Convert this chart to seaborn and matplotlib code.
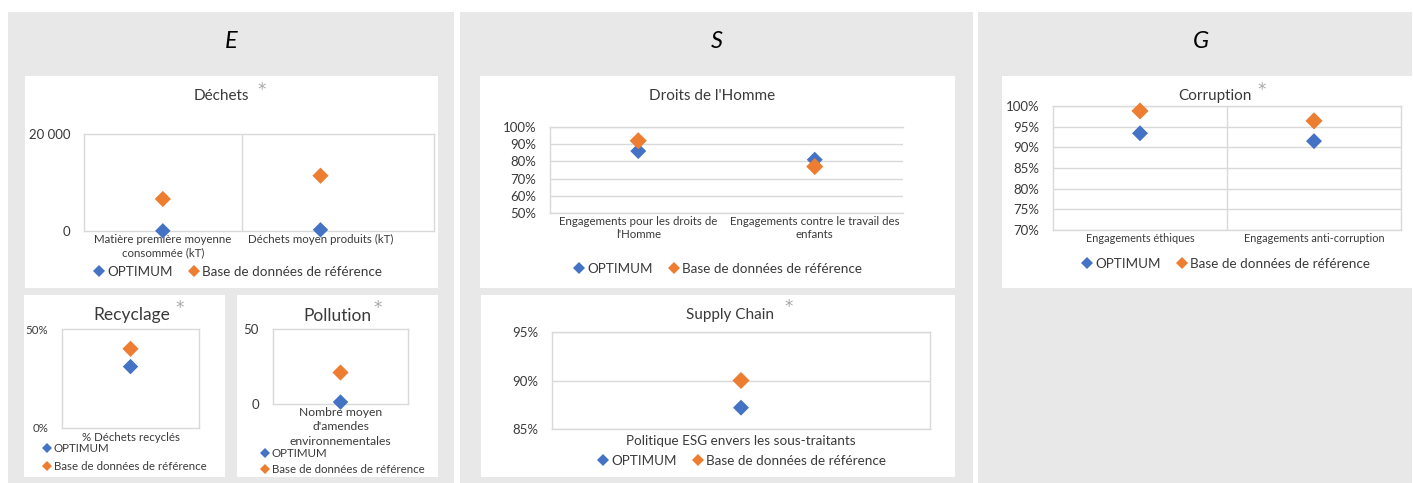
import numpy as np
import pandas as pd
import matplotlib
matplotlib.use("Agg")
import matplotlib.pyplot as plt
from matplotlib.patches import Rectangle
from matplotlib.lines import Line2D
import seaborn as sns

# --- data ---
series = ["OPTIMUM", "Base de données de référence"]

dechets_cats = ["Matière première moyenne\nconsommée (kT)", "Déchets moyen produits (kT)"]
dechets_optimum = [30, 250]
dechets_base = [6600, 11400]

recyclage_cats = ["% Déchets recyclés"]
recyclage_optimum = [0.31]
recyclage_base = [0.40]

pollution_cats = ["Nombre moyen\nd'amendes\nenvironnementales"]
pollution_optimum = [1.3]
pollution_base = [21]

droits_cats = ["Engagements pour les droits de\nl'Homme", "Engagements contre le travail des\nenfants"]
droits_optimum = [0.86, 0.81]
droits_base = [0.92, 0.77]

supply_cats = ["Politique ESG envers les sous-traitants"]
supply_optimum = [0.872]
supply_base = [0.90]

corruption_cats = ["Engagements éthiques", "Engagements anti-corruption"]
corruption_optimum = [0.934, 0.915]
corruption_base = [0.988, 0.964]

# --- style ---
BLUE = "#4472C4"
ORANGE = "#ED7D31"
PANEL = "#E8E8E8"
GRID = "#D9D9D9"
TXT = "#3A3A3A"
STAR = "#A6A6A6"

sns.set_theme(style="white")
plt.rcParams["font.family"] = ["Lato", "DejaVu Sans"]

W, H = 1413, 483
fig = plt.figure(figsize=(W / 100, H / 100), dpi=100)
fig.patch.set_facecolor("white")


def box(x0, y0, x1, y1):
    return [x0 / W, 1 - y1 / H, (x1 - x0) / W, (y1 - y0) / H]


def rect(x0, y0, x1, y1, color, z):
    fig.patches.append(Rectangle((x0 / W, 1 - y1 / H), (x1 - x0) / W, (y1 - y0) / H,
                                 transform=fig.transFigure, facecolor=color,
                                 edgecolor="none", zorder=z))


def ftext(x, y, s, **kw):
    fig.text(x / W, 1 - y / H, s, ha=kw.pop("ha", "center"), va=kw.pop("va", "center"), **kw)


def star(x, y):
    ftext(x, y, "*", fontsize=12, color=STAR, family="DejaVu Sans")


# gray columns and white cards (behind the axes)
rect(8, 12, 454, 483, PANEL, -20)
rect(460, 12, 973, 483, PANEL, -20)
rect(978, 12, 1412, 483, PANEL, -20)
for r in [(25, 76, 438, 288), (24, 295, 225, 477), (237, 295, 438, 477),
          (480, 76, 955, 288), (481, 295, 955, 477), (1002, 76, 1413, 288)]:
    rect(*r, "white", -10)

ftext(231, 42, "E", fontsize=17, style="italic", color="black")
ftext(717, 42, "S", fontsize=17, style="italic", color="black")
ftext(1201, 42, "G", fontsize=17, style="italic", color="black")


def chart(area, cats, optimum, base, ylim, yticks, ylabels, xmax=None,
          hgrid=False, vgrid=False, box_all=True, ysize=9.3, xsize=8.3,
          xpad=2, sizes=(62, 72), lsp=1.25):
    ax = fig.add_axes(box(*area))
    ax.set_facecolor("none")
    pos = np.arange(len(cats))
    df = pd.DataFrame({"pos": np.concatenate([pos, pos]),
                       "val": list(optimum) + list(base),
                       "serie": [series[0]] * len(cats) + [series[1]] * len(cats)})
    sns.scatterplot(data=df, x="pos", y="val", hue="serie", size="serie",
                    sizes={series[0]: sizes[0], series[1]: sizes[1]},
                    palette={series[0]: BLUE, series[1]: ORANGE},
                    marker="D", linewidth=0, legend=False, ax=ax,
                    zorder=4, clip_on=False)
    ax.set_xlim(-0.5, len(cats) - 0.5 if xmax is None else xmax)
    ax.set_ylim(*ylim)
    ax.set_yticks(yticks)
    ax.set_yticklabels(ylabels, fontsize=ysize, color=TXT)
    ax.set_xticks(pos)
    ax.set_xticklabels(cats, fontsize=xsize, color=TXT, linespacing=lsp)
    ax.set_xlabel("")
    ax.set_ylabel("")
    ax.tick_params(length=0)
    ax.tick_params(axis="y", pad=10)
    ax.tick_params(axis="x", pad=xpad)
    for name, sp in ax.spines.items():
        sp.set_color(GRID)
        sp.set_linewidth(1.0)
        if not box_all and name == "right":
            sp.set_visible(False)
    if hgrid:
        ax.yaxis.grid(True, color=GRID, linewidth=1.0)
        ax.set_axisbelow(True)
    if vgrid:
        for b in np.arange(0.5, len(cats) - 0.5):
            ax.axvline(b, color=GRID, linewidth=1.0, zorder=1)
    return ax


def legend(x, y, ncol, size=9.7, msize=6.5, loc="center", spacing=0.4):
    handles = [Line2D([], [], marker="D", linestyle="none", markersize=msize,
                      markerfacecolor=c, markeredgewidth=0) for c in (BLUE, ORANGE)]
    fig.legend(handles, series, loc=loc, bbox_to_anchor=(x / W, 1 - y / H), ncol=ncol,
               frameon=False, fontsize=size, handlelength=0.8, handletextpad=0.2,
               columnspacing=1.2, labelspacing=spacing, borderaxespad=0,
               borderpad=0, labelcolor=TXT)


# E: Déchets
chart((84, 134, 434, 231), dechets_cats, dechets_optimum, dechets_base,
      (0, 20000), [0, 20000], ["0", "20 000"], xmax=1.72, vgrid=True,
      ysize=9.5, xsize=8.3, sizes=(62, 68))
ftext(221, 96, "Déchets", fontsize=11, color=TXT)
star(262, 90)
legend(238, 272, 2)

# E: Recyclage
chart((62, 329, 199, 428), recyclage_cats, recyclage_optimum, recyclage_base,
      (0, 0.5), [0, 0.5], ["0%", "50%"], ysize=8.3, xsize=8.3, xpad=3,
      sizes=(62, 68))
ftext(132, 315, "Recyclage", fontsize=12.5, color=TXT)
star(180, 308)
legend(42, 443, 1, size=8.3, msize=5.5, loc="upper left", spacing=0.6)

# E: Pollution
chart((273, 329, 408, 404), pollution_cats, pollution_optimum, pollution_base,
      (0, 50), [0, 50], ["0", "50"], ysize=9.5, xsize=8.7, sizes=(62, 68), lsp=1.4)
ftext(337, 316, "Pollution", fontsize=12.5, color=TXT)
star(378, 308)
legend(260, 448, 1, size=8.3, msize=5.5, loc="upper left", spacing=0.45)

# S: Droits de l'Homme
chart((550, 127, 903, 213), droits_cats, droits_optimum, droits_base,
      (0.5, 1.0), np.arange(0.5, 1.01, 0.1),
      [f"{v:.0%}" for v in np.arange(0.5, 1.01, 0.1)], hgrid=True, box_all=False,
      ysize=9.5, xsize=8.3, sizes=(66, 76))
ftext(712, 96, "Droits de l'Homme", fontsize=11, color=TXT)
legend(718, 269, 2)

# S: Supply Chain
chart((552, 332, 930, 429), supply_cats, supply_optimum, supply_base,
      (0.85, 0.95), [0.85, 0.90, 0.95], ["85%", "90%", "95%"], hgrid=True,
      ysize=9.5, xsize=9.7, xpad=4.5, sizes=(66, 76))
ftext(730, 315, "Supply Chain", fontsize=11, color=TXT)
star(789, 307)
legend(742, 461, 2)

# G: Corruption
chart((1053, 106, 1401, 230), corruption_cats, corruption_optimum, corruption_base,
      (0.70, 1.0), np.arange(0.70, 1.001, 0.05),
      [f"{v:.0%}" for v in np.arange(0.70, 1.001, 0.05)], hgrid=True, vgrid=True,
      ysize=9.5, xsize=7.8, sizes=(66, 76))
ftext(1215, 96, "Corruption", fontsize=11, color=TXT)
star(1262, 90)
legend(1226, 264, 2)

fig.savefig("out.png", dpi=100, facecolor="white")
